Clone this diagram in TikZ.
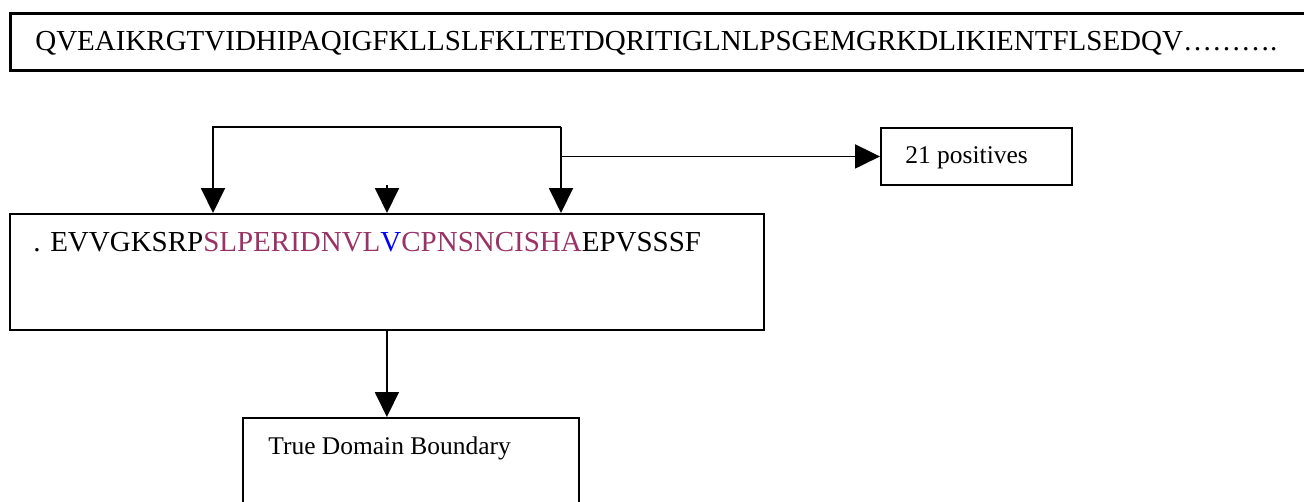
\documentclass[tikz,border=0pt]{standalone}
\usepackage{fontspec}
\setmainfont{Liberation Serif}
\usetikzlibrary{arrows.meta}

\definecolor{plum}{HTML}{993366}

\begin{document}
\begin{tikzpicture}[x=0.02cm, y=-0.02cm,
    box/.style={draw, line width=1.1pt, inner sep=0pt, anchor=north west},
    txt/.style={inner sep=0pt, anchor=base west},
    big/.style={font=\fontsize{16.5}{20}\selectfont},
    small/.style={font=\fontsize{14.5}{17}\selectfont},
    arr/.style={line width=1.1pt, -{Triangle[length=0.5cm, width=0.48cm]}}]
  \useasboundingbox (0,0) rectangle (1304,501);
  \clip (0,0) rectangle (1304,501);
  % boxes
  \node[box, line width=1.6pt, minimum width=26.6cm, minimum height=1.14cm] (query) at (9,12) {};
  \node[box, minimum width=15.08cm, minimum height=2.32cm] (seq) at (9,213) {};
  \node[box, minimum width=3.82cm, minimum height=1.14cm] (pos) at (880,127) {};
  \node[box, minimum width=6.72cm, minimum height=2.6cm] (tdb) at (242,417) {};
  % texts
  \node[txt, big] (qtext) at (35,50) {QVEAIKRGTVIDHIPAQIGFKLLSLFKLTETDQRITIGLNLPSGEMGRKDLIKIENTFLSEDQV……….};
  \node[txt, big] (stext) at (33,251) {. EVVGKSRP\textcolor{plum}{SLPERIDNVL}\textcolor{blue}{V}\textcolor{plum}{CPNSNCISHA}EPVSSSF};
  \node[txt, small] (ptext) at (905,163) {21 positives};
  \node[txt, small] (ttext) at (268,454) {True Domain Boundary};
  % connectors
  \coordinate (tl) at (213,127);
  \coordinate (tr) at (561,127);
  \coordinate (mid) at (387,185);
  \draw[arr] (tr) -- (tl) -- (tl |- seq.north);
  \draw[arr] (tr) -- (tr |- seq.north);
  \draw[arr] (tr |- pos.west) -- (pos.west);
  \draw[arr] (mid) -- (mid |- seq.north);
  \draw[arr] (seq.south) -- (seq.south |- tdb.north);
\end{tikzpicture}
\end{document}
